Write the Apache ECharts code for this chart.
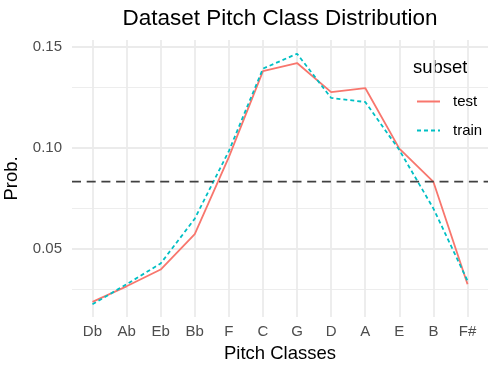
<!DOCTYPE html>
<html>
<head>
<meta charset="utf-8">
<script src="https://cdn.jsdelivr.net/npm/echarts@6/dist/echarts.min.js"></script>
<style>
html,body{margin:0;padding:0;background:#fff;}
#chart{width:498px;height:374px;}
</style>
</head>
<body>
<div id="chart"></div>
<script>
// ---- data ----
var categories = ['Db','Ab','Eb','Bb','F','C','G','D','A','E','B','F#'];
var testValues  = [0.0238,0.0315,0.0398,0.0573,0.0955,0.1381,0.1421,0.1277,0.1297,0.0997,0.0832,0.0325];
var trainValues = [0.0226,0.0325,0.0428,0.0650,0.0985,0.1393,0.1467,0.1248,0.1228,0.0990,0.0700,0.0342];
var uniformLevel = 1/12;
var yTicks = [0.05, 0.10, 0.15];
var yMinorTicks = [0.025, 0.075, 0.125];

var FONT = 'Liberation Sans, Arial, Helvetica, sans-serif';
var GRID = '#EBEBEB';
var X_MIN = -0.6, X_MAX = categories.length - 1 + 0.6;

function pairs(vals){ return vals.map(function(v,i){ return [i, v]; }); }
var catIdx = categories.map(function(c,i){ return i; });

var gridLines = [];
catIdx.forEach(function(i){ gridLines.push({xAxis:i, lineStyle:{color:GRID,width:1.8,type:'solid'}}); });
yMinorTicks.forEach(function(v){ gridLines.push({yAxis:v, lineStyle:{color:GRID,width:0.9,type:'solid'}}); });
yTicks.forEach(function(v){ gridLines.push({yAxis:v, lineStyle:{color:GRID,width:1.8,type:'solid'}}); });

var chart = echarts.init(document.getElementById('chart'), null, {renderer:'canvas'});
chart.setOption({
  animation:false,
  backgroundColor:'#ffffff',
  textStyle:{fontFamily:FONT},
  grid:{left:72,right:10,top:40,bottom:57,containLabel:false,outerBoundsMode:'none'},
  xAxis:{
    type:'value', min:X_MIN, max:X_MAX,
    axisLine:{show:false}, axisTick:{show:false}, splitLine:{show:false},
    axisLabel:{customValues:catIdx, formatter:function(v){ return categories[Math.round(v)]; },
      color:'#4D4D4D', fontSize:15, fontFamily:FONT, margin:7},
    name:'Pitch Classes', nameLocation:'middle', nameGap:27,
    nameTextStyle:{color:'#000', fontSize:18.5, fontFamily:FONT}
  },
  yAxis:{
    type:'value', min:0.0163, max:0.1535,
    axisLine:{show:false}, axisTick:{show:false}, splitLine:{show:false},
    axisLabel:{customValues:yTicks, formatter:function(v){ return v.toFixed(2); },
      color:'#4D4D4D', fontSize:15, fontFamily:FONT, margin:10},
    name:'Prob.', nameLocation:'middle', nameGap:43, nameRotate:90,
    nameTextStyle:{color:'#000', fontSize:18.5, fontFamily:FONT}
  },
  legend:{
    data:['test','train'], orient:'vertical', left:416, top:94, padding:0,
    itemWidth:23, itemHeight:14, itemGap:14,
    itemStyle:{opacity:0},
    textStyle:{color:'#000', fontSize:15, fontFamily:FONT, padding:[0,0,0,8]}
  },
  graphic:[
    {type:'text', x:280, y:7, style:{text:'Dataset Pitch Class Distribution', fill:'#000',
      font:'22.5px '+FONT, textAlign:'center', textVerticalAlign:'top'}},
    {type:'text', x:413, y:58, style:{text:'subset', fill:'#000',
      font:'18.5px '+FONT, textAlign:'left', textVerticalAlign:'top'}}
  ],
  series:[
    {name:'grid', type:'line', data:[], silent:true, z:0,
      markLine:{silent:true, symbol:['none','none'], z:0, label:{show:false}, data:gridLines, animation:false}},
    {name:'test', type:'line', data:pairs(testValues), symbol:'none', showSymbol:false, z:3,
      lineStyle:{color:'#F8766D', width:1.8, type:'solid'}, itemStyle:{color:'#F8766D'}},
    {name:'train', type:'line', data:pairs(trainValues), symbol:'none', showSymbol:false, z:4,
      lineStyle:{color:'#00BFC4', width:1.8, type:[4,3]}, itemStyle:{color:'#00BFC4'}},
    {name:'uniform', type:'line', data:[[X_MIN, uniformLevel],[X_MAX, uniformLevel]],
      symbol:'none', showSymbol:false, silent:true, z:5,
      lineStyle:{color:'#404040', width:1.8, type:[9,5.7]}}
  ]
});
</script>
</body>
</html>
